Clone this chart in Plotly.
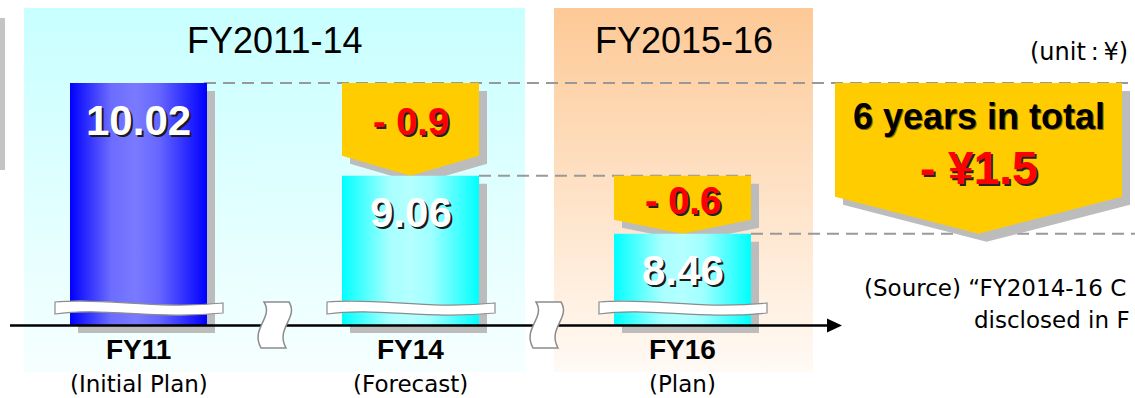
import plotly.graph_objects as go

# ---- chart values ----
periods = ["FY11", "FY14", "FY16"]
period_notes = ["(Initial Plan)", "(Forecast)", "(Plan)"]
unit_values = [10.02, 9.06, 8.46]
step_cuts = [0.9, 0.6]
total_cut = 1.5
total_caption = "6 years in total"
phase_titles = ["FY2011-14", "FY2015-16"]
unit_label = "(unit\u2009:\u2009¥)"
source_lines = ["(Source) “FY2014-16 C", "disclosed in F"]

# ---- layout constants (pixels on x / y, yen on y2) ----
W, H = 1135, 398
Y_LO, Y_HI = 6.76, 10.88          # value axis window (broken axis)
UPP = (Y_HI - Y_LO) / H            # value units per pixel
AXIS_BASE = 7.515                  # value where the broken axis line sits
AXIS_PX = 325.5
BAR_X = [138.5, 410.5, 682.5]
BAR_W = 137
SHADOW = 8
NOTCH = [20, 14]                   # depth of the step-arrow points (px)
BIG_X, BIG_HALF, BIG_NOTCH = 978.5, 143.5, 37
PANEL_SPANS = [(24, 525), (554, 813)]
PANEL_COLORS = [("#c8ffff", "#f6ffff"), ("#fdc996", "#fffaf5")]
PANEL_TOP, PANEL_BOTTOM = 8, 372
FONT = "Liberation Sans, Arial, sans-serif"
FONT_NOTE = "DejaVu Sans, Liberation Sans, sans-serif"
YELLOW = "#ffcc00"
SHADOW_GREY = "#bcbcbc"
BAR_SCALES = [
    [[0, "#0000ff"], [0.3, "#6c6cff"], [0.48, "#7a7aff"], [0.65, "#6666ff"], [1, "#0000ff"]],
    [[0, "#00ffff"], [0.35, "#a8ffff"], [0.5, "#b4ffff"], [0.65, "#a0ffff"], [1, "#00ffff"]],
    [[0, "#00ffff"], [0.35, "#a8ffff"], [0.5, "#b4ffff"], [0.65, "#a0ffff"], [1, "#00ffff"]],
]

fig = go.Figure()


def polygon(xs, ys, fill=None, gradient=None, axis="y2"):
    fig.add_trace(go.Scatter(
        x=list(xs) + [xs[0]], y=list(ys) + [ys[0]], yaxis=axis,
        mode="lines", line=dict(width=0), fill="toself",
        fillcolor=fill, fillgradient=gradient,
        hoverinfo="skip", showlegend=False))


def arrow_box(cx, half, top, tip, notch, dx=0.0, dy=0.0):
    shoulder = tip + notch * UPP
    xs = [cx - half, cx + half, cx + half, cx, cx - half]
    ys = [top, top, shoulder, tip, shoulder]
    return [x + dx for x in xs], [y - dy * UPP for y in ys]


# phase background panels (pixel axis, underneath the value axis)
for (x0, x1), (c_top, c_bot) in zip(PANEL_SPANS, PANEL_COLORS):
    polygon([x0, x1, x1, x0], [PANEL_TOP, PANEL_TOP, PANEL_BOTTOM, PANEL_BOTTOM],
            gradient=dict(type="vertical", colorscale=[[0, c_top], [1, c_bot]],
                          start=PANEL_TOP, stop=PANEL_BOTTOM), axis="y")

# dashed guide lines at each bar level
dash_ends = [W, BAR_X[2] + BAR_W / 2, W]
for i, v in enumerate(unit_values):
    x_start = BAR_X[i] + BAR_W / 2 - (3 if i == 0 else 0)
    fig.add_trace(go.Scatter(
        x=[x_start, dash_ends[i]], y=[v, v], yaxis="y2", mode="lines",
        line=dict(color="#999999", width=2, dash="12px,7px"),
        hoverinfo="skip", showlegend=False))

# bar shadows
for cx, v in zip(BAR_X, unit_values):
    l, r = cx - BAR_W / 2 + SHADOW, cx + BAR_W / 2 + SHADOW
    t, b = v - SHADOW * UPP, AXIS_BASE - SHADOW * UPP
    polygon([l, r, r, l], [t, t, b, b], fill=SHADOW_GREY)

# step arrows and the six-year total arrow (shadow first)
arrows = [(BAR_X[i + 1], BAR_W / 2, unit_values[i], unit_values[i + 1], NOTCH[i])
          for i in range(len(step_cuts))]
arrows.append((BIG_X, BIG_HALF, unit_values[0], unit_values[-1], BIG_NOTCH))
for a in arrows:
    xs, ys = arrow_box(*a, dx=SHADOW, dy=SHADOW)
    polygon(xs, ys, fill=SHADOW_GREY)
for a in arrows:
    xs, ys = arrow_box(*a)
    polygon(xs, ys, fill=YELLOW)

# bars
for cx, v, scale in zip(BAR_X, unit_values, BAR_SCALES):
    l, r = cx - BAR_W / 2, cx + BAR_W / 2
    polygon([l, r, r, l], [v, v, AXIS_BASE, AXIS_BASE],
            gradient=dict(type="horizontal", colorscale=scale, start=l, stop=r))

shapes = []
# clipped grey box edge on the far left
shapes.append(dict(type="rect", xref="x", yref="y", x0=0, x1=5, y0=18, y1=170,
                   fillcolor="#c4c4c4", line=dict(width=0), layer="above"))

# wavy break bands across the bars
for cx in BAR_X:
    x0 = cx - BAR_W / 2 - 15
    w = BAR_W + 31
    path = (f"M {x0},302 C {x0 + 50},297 {x0 + 100},310 {x0 + w},303 "
            f"L {x0 + w},313 C {x0 + 100},320 {x0 + 50},307 {x0},314 Z")
    shapes.append(dict(type="path", xref="x", yref="y", path=path,
                       fillcolor="white", line=dict(color="#8c8c8c", width=1.2),
                       layer="above"))

# time axis with arrow head
shapes.append(dict(type="line", xref="x", yref="y", x0=10, x1=830,
                   y0=AXIS_PX, y1=AXIS_PX, line=dict(color="black", width=2.5),
                   layer="above"))
shapes.append(dict(type="path", xref="x", yref="y",
                   path=f"M 827,{AXIS_PX - 7} L 842,{AXIS_PX} L 827,{AXIS_PX + 7} Z",
                   fillcolor="black", line=dict(width=0), layer="above"))

# axis break marks between the bars
for i in range(len(BAR_X) - 1):
    cx = (BAR_X[i] + BAR_X[i + 1]) / 2 + 2
    L, R = cx - 12.5, cx + 12.5
    path = (f"M {L},302 L {R},302 C {R + 10},318 {R - 14},328 {R - 3},348 "
            f"L {L - 3},348 C {L - 14},328 {L + 10},318 {L},302 Z")
    shapes.append(dict(type="path", xref="x", yref="y", path=path,
                       fillcolor="white", line=dict(color="#8c8c8c", width=1.5),
                       layer="above"))

ann = []


def text(x, y, s, size, color="black", bold=False, yref="y", yshift=0,
         xanchor="center", shadow="none", family=FONT):
    ann.append(dict(x=x, y=y, xref="x", yref=yref, text=s, showarrow=False,
                    xanchor=xanchor, yanchor="middle", yshift=yshift,
                    font=dict(family=family, size=size, color=color,
                              weight="bold" if bold else "normal", shadow=shadow)))


for (x0, x1), title in zip(PANEL_SPANS, phase_titles):
    text((x0 + x1) / 2, 40, title, 36)
text(1130, 52, unit_label, 24, xanchor="right", family=FONT_NOTE)

for cx, v in zip(BAR_X, unit_values):
    text(cx, v, f"{v:.2f}", 42, color="white", bold=True, yref="y2", yshift=-37,
         shadow="2px 2px 0px #1a1a1a")

for i, cut in enumerate(step_cuts):
    top = unit_values[i]
    shoulder = unit_values[i + 1] + NOTCH[i] * UPP
    text(BAR_X[i + 1], (top + shoulder) / 2, f"- {cut}", 38, color="#ff0000",
         bold=True, yref="y2", yshift=-3, shadow="2px 2px 0px #222222")

text(BIG_X, unit_values[0], total_caption, 36, bold=True, yref="y2", yshift=-33,
     shadow="1px 1px 0px #8a6a00")
text(BIG_X, unit_values[0], f"- ¥{total_cut}", 46, color="#ff0000", bold=True,
     yref="y2", yshift=-85, shadow="2px 2px 0px #222222")

for cx, p, note in zip(BAR_X, periods, period_notes):
    text(cx, 349, p, 28, bold=True)
    text(cx, 384, note, 23, family=FONT_NOTE)

text(862, 288, source_lines[0], 23, xanchor="left", family=FONT_NOTE)
text(972, 320, source_lines[1], 23, xanchor="left", family=FONT_NOTE)

fig.update_layout(
    width=W, height=H, autosize=False,
    margin=dict(l=0, r=0, t=0, b=0, pad=0),
    paper_bgcolor="white", plot_bgcolor="white",
    xaxis=dict(range=[0, W], visible=False, fixedrange=True),
    yaxis=dict(range=[H, 0], visible=False, fixedrange=True),
    yaxis2=dict(range=[Y_LO, Y_HI], overlaying="y", visible=False, fixedrange=True),
    shapes=shapes, annotations=ann, showlegend=False,
)

fig.write_html("out.html", config={"displayModeBar": False})
